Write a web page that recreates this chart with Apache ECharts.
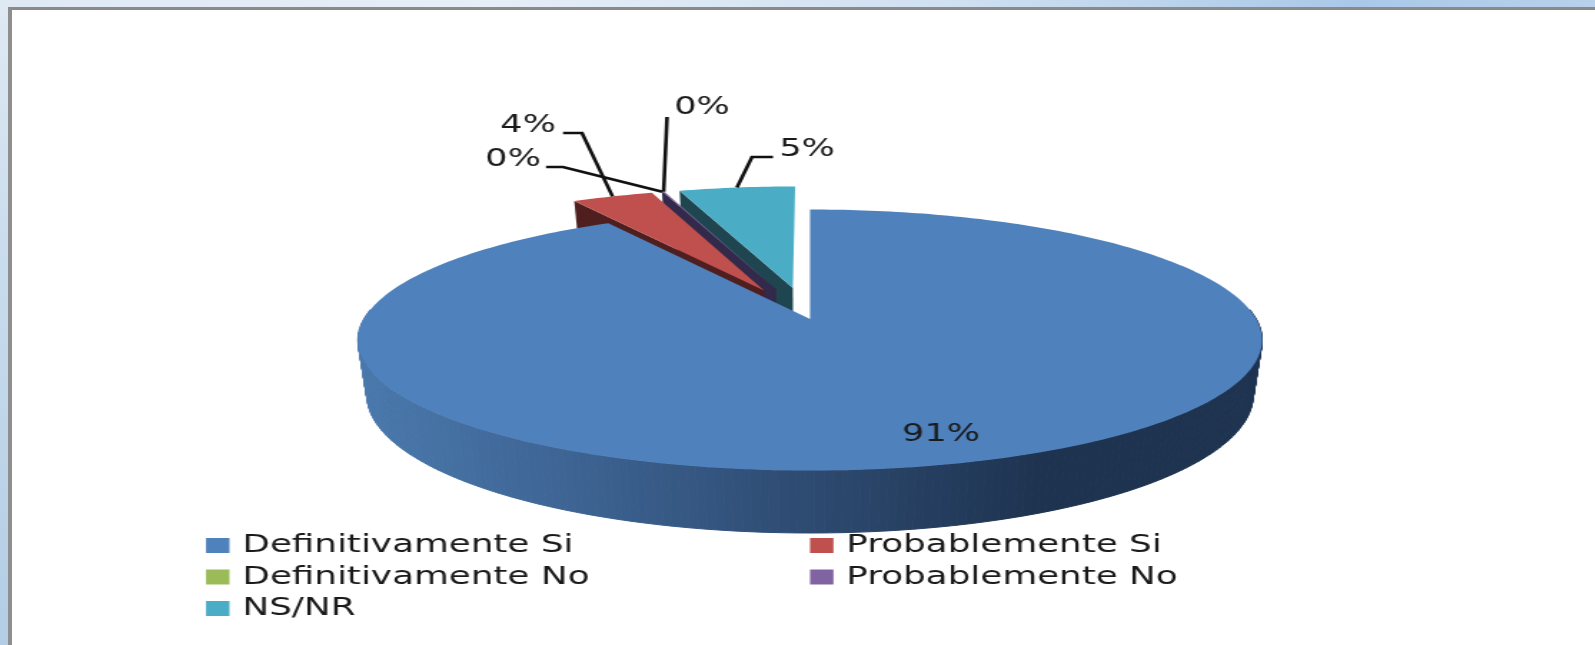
<!DOCTYPE html>
<html>
<head>
<meta charset="utf-8">
<title>Pie</title>
<script src="https://cdn.jsdelivr.net/npm/echarts@6/dist/echarts.min.js"></script>
<style>
  html, body { margin: 0; padding: 0; width: 1595px; height: 645px; overflow: hidden; }
  body {
    background:
      linear-gradient(90deg, #dfe9f4 0, #e6eef7 30%, #cfe0f1 60%, #a9c8e8 85%, #b8d1ec 100%) top/100% 8px no-repeat,
      linear-gradient(180deg, #dfe9f3 0, #c9dced 40%, #b2cde5 100%);
  }
  .frame {
    position: absolute; left: 8px; top: 7px; right: 0; bottom: 0;
    border-left: 4px solid #8e8e8e; border-top: 3px solid #8a8a8a;
    background: #fff;
  }
  #main { position: absolute; left: 0; top: 0; height: 645px; transform-origin: 0 0; }
</style>
</head>
<body>
<div class="frame"></div>
<div id="main"></div>
<script>
const categories = ['Definitivamente Si', 'Probablemente Si', 'Definitivamente No', 'Probablemente No', 'NS/NR']
const values = [91.4, 3.5, 0.02, 0.08, 5]
const colors = ['#4f81bd', '#c0504d', '#9bbb59', '#8064a2', '#4bacc6']
const sideColors = ['#2a4466', '#4f1f1f', '#33294a', '#33294a', '#1f4650']

// the source picture is stretched sideways, so the whole canvas is too
const S = 1.43
const main = document.getElementById('main')
main.style.width = (1595 / S) + 'px'
main.style.transform = 'scaleX(' + S + ')'

const FONT = '24.5px "DejaVu Sans"'
const TILT = 0.161 // how far the pie centre sits above the ellipse centre
const K = Math.sqrt(1 - TILT * TILT)
const topFace = { cx: 810, cy: 340, rx: 452, ry: 130.5 }
const bottomFace = { cx: 810, cy: 395, rx: 443, ry: 138 }
const EXPLODE = 0.256

// label centre and leader elbow per slice, in page pixels
const labelPos = [[941, 435], [528, 126], [513, 160], [702, 108], [807, 150]]
const leaderPath = [
  null,
  [[563, 133], [582, 133]],
  [[546, 167], [563, 167]],
  [[667, 117]],
  [[773, 157], [752, 157]]
]

// perspective mapping of the unit circle onto a face ellipse
function project (u, v, face) {
  const d = 1 + TILT * v
  return [(face.cx + face.rx * u * K / d) / S, face.cy - face.ry * (v + TILT) / d]
}

function sliceAngles (i) {
  const before = values.slice(0, i).reduce((a, b) => a + b, 0)
  return [before * 3.6, (before + values[i]) * 3.6]
}

function onCircle (deg, off) {
  const r = deg * Math.PI / 180
  return [Math.sin(r) + off[0], Math.cos(r) + off[1]]
}

function sideColor (x) {
  const t = Math.min(1, Math.max(0, (x * S - 358) / (1040 - 358)))
  return echarts.color.lerp(t, ['#4a78ac', '#3c6291', '#2d4a70', '#1e3350'])
}

function renderSlice (params) {
  const i = params.seriesIndex
  const [start, end] = sliceAngles(i)
  const mid = (start + end) / 2 * Math.PI / 180
  const e = i === 0 ? 0 : EXPLODE
  const off = [e * Math.sin(mid), e * Math.cos(mid)]
  const children = []

  const steps = Math.max(2, Math.ceil(end - start))
  const arc = []
  for (let s = 0; s <= steps; s++) arc.push(start + (end - start) * s / steps)

  if (i === 0) {
    // outer wall, only the front shows
    for (let s = 0; s < steps; s++) {
      if (arc[s] < 85 || arc[s + 1] > 275) continue
      const a = onCircle(arc[s], off)
      const b = onCircle(arc[s + 1], off)
      const p1 = project(a[0], a[1], topFace)
      const p2 = project(b[0], b[1], topFace)
      const p3 = project(b[0], b[1], bottomFace)
      const p4 = project(a[0], a[1], bottomFace)
      const c = sideColor((p1[0] + p2[0]) / 2)
      children.push({
        type: 'polygon',
        shape: { points: [p1, p2, p3, p4] },
        style: { fill: c, stroke: c, lineWidth: 1 }
      })
    }
  } else {
    // cut face on the left of an exploded slice
    const a = onCircle(start, off)
    children.push({
      type: 'polygon',
      shape: {
        points: [
          project(off[0], off[1], topFace),
          project(a[0], a[1], topFace),
          project(a[0], a[1], bottomFace),
          project(off[0], off[1], bottomFace)
        ]
      },
      style: { fill: sideColors[i] }
    })
  }

  const face = [project(off[0], off[1], topFace)]
  arc.forEach(d => {
    const p = onCircle(d, off)
    face.push(project(p[0], p[1], topFace))
  })
  children.push({
    type: 'polygon',
    shape: { points: face },
    style: { fill: colors[i] }
  })

  const elbow = leaderPath[i]
  if (elbow) {
    const o = onCircle((start + end) / 2, off)
    const pts = elbow.map(p => [p[0] / S, p[1]])
    pts.push(project(o[0], o[1], topFace))
    children.push({
      type: 'polyline',
      shape: { points: pts },
      style: { fill: null, stroke: '#111', lineWidth: 2.6 }
    })
  }

  children.push({
    type: 'text',
    style: {
      text: Math.round(values[i]) + '%',
      x: labelPos[i][0] / S,
      y: labelPos[i][1],
      font: FONT,
      fill: '#1a1a1a',
      align: 'center',
      verticalAlign: 'middle'
    }
  })
  return { type: 'group', children: children }
}

const chart = echarts.init(main, null, { renderer: 'canvas' })
const legendBase = {
  orient: 'vertical',
  top: 533,
  icon: 'rect',
  itemWidth: 16.4,
  itemHeight: 15,
  itemGap: 6.5,
  selectedMode: false,
  padding: 0,
  textStyle: { fontFamily: 'DejaVu Sans', fontSize: 25, color: '#1a1a1a', padding: [0, 0, 0, 4] }
}
// back slices first, the big one on top
const drawOrder = [10, 4, 2, 3, 1]
chart.setOption({
  animation: false,
  backgroundColor: 'transparent',
  legend: [
    Object.assign({}, legendBase, { left: 206 / S, data: [categories[0], categories[2], categories[4]] }),
    Object.assign({}, legendBase, { left: 810 / S, data: [categories[1], categories[3]] })
  ],
  series: categories.map((name, i) => ({
    type: 'custom',
    name: name,
    coordinateSystem: 'none',
    z: drawOrder[i],
    silent: true,
    itemStyle: { color: colors[i] },
    renderItem: renderSlice,
    data: [[values[i]]]
  }))
})
</script>
</body>
</html>
